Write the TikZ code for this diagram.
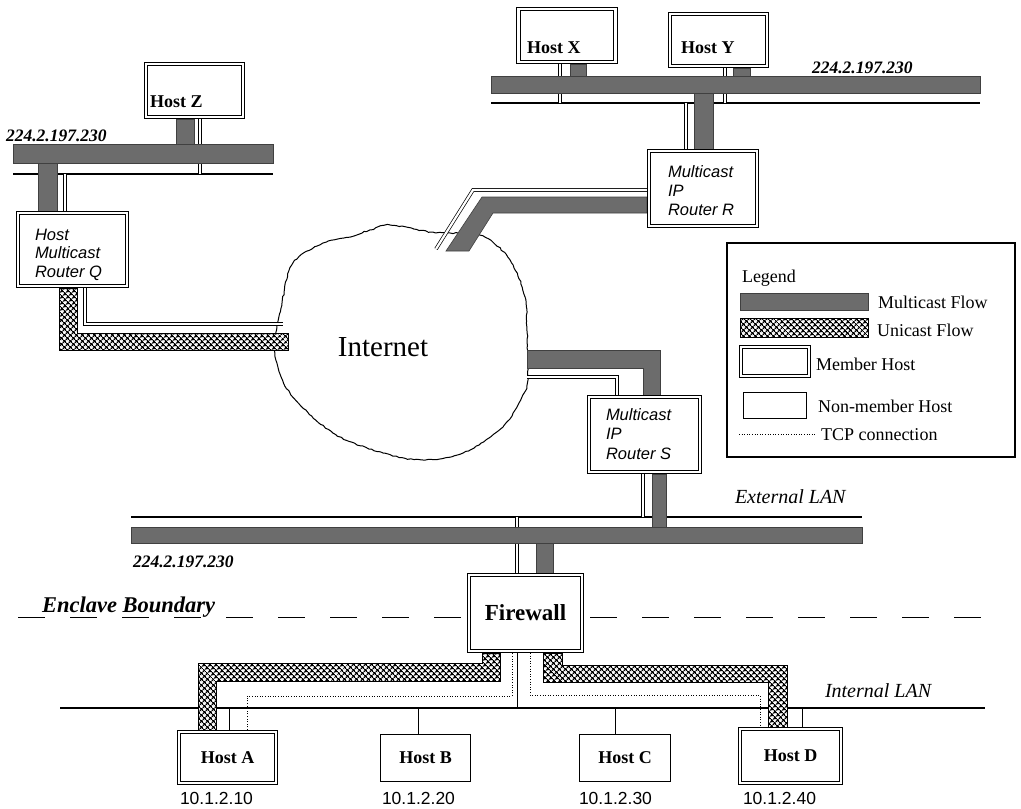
\documentclass[tikz,border=0pt]{standalone}
\usepackage{fontspec}
\setmainfont{Liberation Serif}
\newfontfamily\helv{Liberation Sans}
\usetikzlibrary{patterns.meta,decorations.pathmorphing}

\definecolor{mflow}{RGB}{108,108,108}

\begin{document}
\begin{tikzpicture}[x=1pt,y=-1pt,
  lan/.style={line width=1.1},
  phys/.style={double, double distance=2.2, line width=0.7},
  drop/.style={line width=1},
  mcast/.style={fill=mflow, draw=black!75, line width=0.6},
  ucast/.style={preaction={fill=white}, pattern={Hatch[angle=45,distance=4pt,line width=1.3pt]}, draw=black, line width=0.8},
  tcp/.style={line width=0.9, dash pattern=on 1pt off 1.6pt},
  member/.style={draw, double, double distance=2.4, line width=0.9, fill=white, inner sep=0},
  plainhost/.style={draw, line width=1, fill=white, inner sep=0},
  txt/.style={anchor=base west, inner sep=0, outer sep=0},
  hostlbl/.style={font=\bfseries\fontsize{18}{20}\selectfont},
  rtr/.style={txt, font=\helv\itshape\fontsize{16.5}{19}\selectfont},
  ip/.style={txt, font=\helv\fontsize{17.5}{20}\selectfont},
  mcaddr/.style={txt, font=\bfseries\itshape\fontsize{17.5}{20}\selectfont},
  lanlbl/.style={txt, font=\itshape\fontsize{20}{22}\selectfont},
  leg/.style={txt, font=\fontsize{18}{20}\selectfont}
]
\useasboundingbox (0,0) rectangle (1021,809);
\pgfmathsetseed{42}

% ---------- Internet cloud ----------
\draw[line width=1, fill=white, decorate,
      decoration={random steps,segment length=3pt,amplitude=0.6pt}]
  plot[smooth cycle, tension=0.55] coordinates {
    (370,230) (390,225) (430,232) (450,233) (483,236) (510,260) (525,297)
    (527,330) (528,380) (523,395) (503,427) (463,453) (423,460) (383,453)
    (333,433) (290,393) (275,353) (282,303) (293,263) (323,243) (350,237)};
\node[font=\fontsize{29}{31}\selectfont, inner sep=0] (inet) at (383,347) {Internet};

% ---------- LAN segments (physical wire) ----------
\draw[lan] (13,174) -- (273,174);
\draw[lan] (491,103) -- (980,103);
\draw[lan] (131,517) -- (862,517);
\draw[lan] (60,708) -- (985,708);

% ---------- host and router drops ----------
\draw[phys] (200,119) -- (200,174);
\draw[phys] (65,174) -- (65,211);
\draw[phys] (85,288) -- (85,324) -- (283,324);
\draw[phys] (560,64) -- (560,103);
\draw[phys] (725,68) -- (725,103);
\draw[phys] (686,103) -- (686,149);
\draw[phys] (647,190) -- (473,190) -- (436,249);
\draw[phys] (527,377) -- (617,377) -- (617,395);
\draw[phys] (643,474) -- (643,517);
\draw[phys] (517,517) -- (517,573);
\draw[drop] (517,653) -- (517,708);
\draw[drop] (229,708) -- (229,730);
\draw[drop] (418,708) -- (418,734);
\draw[drop] (615,708) -- (615,734);
\draw[drop] (802,708) -- (802,727);

% ---------- enclave boundary ----------
\draw[line width=1, dash pattern=on 27pt off 25pt] (18,617) -- (981,617);

% ---------- multicast flow ----------
\path[mcast] (13,144) rectangle (273,163);
\path[mcast] (176,119) rectangle (194,144);
\path[mcast] (38,163) rectangle (57,211);
\path[mcast] (491,76) rectangle (980,93);
\path[mcast] (570,64) rectangle (586,76);
\path[mcast] (733,68) rectangle (750,76);
\path[mcast] (694,93) rectangle (713,149);
\path[mcast] (647,197) -- (482,197) -- (446,251) -- (469,251) -- (493,213) -- (647,213) -- cycle;
\path[mcast] (527,350) -- (660,350) -- (660,395) -- (643,395) -- (643,368) -- (527,368) -- cycle;
\path[mcast] (652,474) rectangle (666,527);
\path[mcast] (131,527) rectangle (862,543);
\path[mcast] (536,543) rectangle (553,573);

% ---------- unicast flow ----------
\path[ucast] (59,288) -- (77,288) -- (77,333) -- (288,333) -- (288,350) -- (59,350) -- cycle;
\path[ucast] (482,653) -- (500,653) -- (500,681) -- (216,681) -- (216,730) -- (198,730) -- (198,663) -- (482,663) -- cycle;
\path[ucast] (543,653) -- (562,653) -- (562,665) -- (787,665) -- (787,727) -- (768,727) -- (768,682) -- (543,682) -- cycle;

% ---------- TCP connections ----------
\draw[tcp] (247,730) -- (247,696) -- (512,696) -- (512,653);
\draw[tcp] (530,653) -- (530,695) -- (760,695) -- (760,727);

% ---------- hosts and routers ----------
\node[member, minimum width=97, minimum height=53] (hz) at (194.5,90.5) {};
\node[member, minimum width=97, minimum height=53] (hx) at (567,35.5) {};
\node[member, minimum width=97, minimum height=52] (hy) at (718.5,40) {};
\node[member, minimum width=109, minimum height=73] (rq) at (72.5,249.5) {};
\node[member, minimum width=108, minimum height=75] (ra) at (703,188.5) {};
\node[member, minimum width=111, minimum height=75] (rs) at (644.5,434.5) {};
\node[member, minimum width=113, minimum height=76, font=\bfseries\fontsize{23}{25}\selectfont] (fw) at (525.5,613) {Firewall};
\node[member, minimum width=97, minimum height=51, hostlbl] (ha) at (227.5,757.5) {Host A};
\node[plainhost, minimum width=90, minimum height=47, hostlbl] (hb) at (425.5,758) {Host B};
\node[plainhost, minimum width=91, minimum height=47, hostlbl] (hc) at (625,758) {Host C};
\node[member, minimum width=101, minimum height=54, hostlbl] (hd) at (790.5,756) {Host D};

% ---------- box labels ----------
\node[txt, hostlbl] (hzt) at (150,107) {Host Z};
\node[txt, hostlbl] (hxt) at (527,53) {Host X};
\node[txt, hostlbl] (hyt) at (681,53) {Host Y};
\node[rtr] (rq1) at (35,240) {Host};
\node[rtr] (rq2) at (35,258.5) {Multicast};
\node[rtr] (rq3) at (35,277) {Router Q};
\node[rtr] (ra1) at (668,177) {Multicast};
\node[rtr] (ra2) at (668,196) {IP};
\node[rtr] (ra3) at (668,215) {Router R};
\node[rtr] (rs1) at (606,420) {Multicast};
\node[rtr] (rs2) at (606,439) {IP};
\node[rtr] (rs3) at (606,459) {Router S};

% ---------- network labels ----------
\node[mcaddr] (g1) at (6,141) {224.2.197.230};
\node[mcaddr] (g2) at (812,73) {224.2.197.230};
\node[mcaddr] (g3) at (133,567) {224.2.197.230};
\node[lanlbl] (ext) at (735,503) {External LAN};
\node[lanlbl] (intl) at (825,697) {Internal LAN};
\node[txt, font=\bfseries\itshape\fontsize{22.5}{24}\selectfont] (encl) at (42,612) {Enclave Boundary};
\node[ip] (ipa) at (180,804) {10.1.2.10};
\node[ip] (ipb) at (382,804) {10.1.2.20};
\node[ip] (ipc) at (579,804) {10.1.2.30};
\node[ip] (ipd) at (743,804) {10.1.2.40};

% ---------- legend ----------
\node[draw, line width=1.1, minimum width=288, minimum height=214, inner sep=0] (legbox) at (871,350) {};
\node[leg] (legt) at (742,282) {Legend};
\path[mcast] (740,293) rectangle (868,310);
\node[leg] (legmf) at (878,308) {Multicast Flow};
\path[ucast] (740,318) rectangle (868,337);
\node[leg] (leguf) at (877,336) {Unicast Flow};
\node[member, minimum width=68, minimum height=29] (legm) at (775,361.5) {};
\node[leg] (legmh) at (816,370) {Member Host};
\node[plainhost, minimum width=63, minimum height=26] (legn) at (775,405.5) {};
\node[leg] (legnh) at (818,412) {Non-member Host};
\coordinate (tcpa) at (739,434);
\coordinate (tcpb) at (817,434);
\draw[tcp] (tcpa) -- (tcpb);
\node[leg] (legtcp) at (821,440) {TCP connection};
\end{tikzpicture}
\end{document}
